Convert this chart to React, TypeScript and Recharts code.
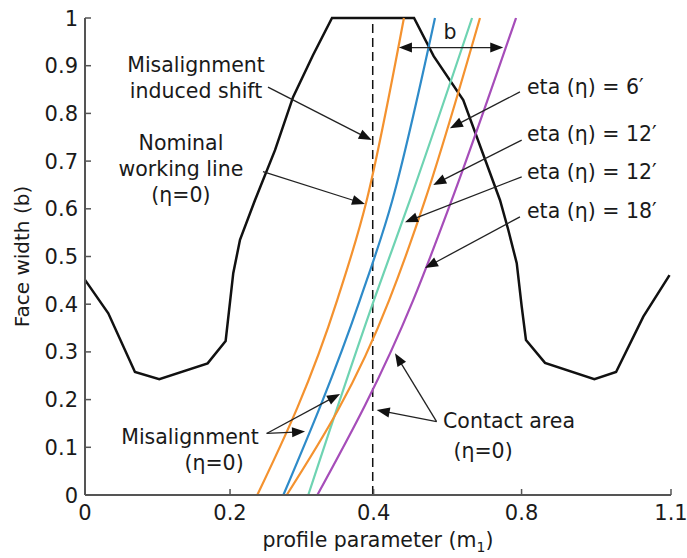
import { LineChart, Line, XAxis, YAxis, ReferenceLine, ReferenceDot } from "recharts";

// x axis is drawn on an index scale: the printed labels are not evenly spaced values
const xTickValues = [0, 0.99, 1.97, 2.98, 4];
const xTickLabels = ["0", "0.2", "0.4", "0.8", "1.1"];
const yTickValues = [0, 0.1, 0.2, 0.3, 0.4, 0.5, 0.6, 0.7, 0.8, 0.9, 1];

// tooth contact boundary (black)
const contactBoundary = [
  { x: 0, y: 0.451 },
  { x: 0.159, y: 0.381 },
  { x: 0.341, y: 0.258 },
  { x: 0.507, y: 0.243 },
  { x: 0.837, y: 0.276 },
  { x: 0.96, y: 0.323 },
  { x: 1.012, y: 0.465 },
  { x: 1.058, y: 0.535 },
  { x: 1.16, y: 0.618 },
  { x: 1.297, y: 0.723 },
  { x: 1.42, y: 0.834 },
  { x: 1.556, y: 0.922 },
  { x: 1.686, y: 1.0 },
  { x: 2.246, y: 1.0 },
  { x: 2.38, y: 0.92 },
  { x: 2.582, y: 0.828 },
  { x: 2.833, y: 0.618 },
  { x: 2.889, y: 0.556 },
  { x: 2.947, y: 0.486 },
  { x: 2.981, y: 0.395 },
  { x: 3.01, y: 0.325 },
  { x: 3.14, y: 0.277 },
  { x: 3.477, y: 0.243 },
  { x: 3.625, y: 0.258 },
  { x: 3.811, y: 0.374 },
  { x: 3.99, y: 0.461 },
];

// working lines
const nominalOrange = [
  { x: 1.176, y: 0 },
  { x: 1.722, y: 0.409 },
  { x: 1.923, y: 0.618 },
  { x: 2.177, y: 1 },
];
const blueLine = [
  { x: 1.354, y: 0 },
  { x: 1.877, y: 0.409 },
  { x: 2.098, y: 0.618 },
  { x: 2.389, y: 1 },
];
const greenLine = [
  { x: 1.524, y: 0 },
  { x: 1.973, y: 0.409 },
  { x: 2.218, y: 0.618 },
  { x: 2.642, y: 1 },
];
const shiftedOrange = [
  { x: 1.377, y: 0 },
  { x: 2.077, y: 0.409 },
  { x: 2.321, y: 0.618 },
  { x: 2.696, y: 1 },
];
const purpleLine = [
  { x: 1.586, y: 0 },
  { x: 2.241, y: 0.409 },
  { x: 2.503, y: 0.618 },
  { x: 2.942, y: 1 },
];

const nominalX = 1.964;

// annotations
const arrows = [
  { from: [1.249, 0.855], to: [1.957, 0.744] },
  { from: [1.215, 0.678], to: [1.911, 0.61] },
  { from: [2.969, 0.845], to: [2.491, 0.769] },
  { from: [2.981, 0.744], to: [2.377, 0.65] },
  { from: [2.981, 0.667], to: [2.184, 0.572] },
  { from: [2.969, 0.583], to: [2.321, 0.476] },
  { from: [1.24, 0.129], to: [1.741, 0.212] },
  { from: [1.24, 0.129], to: [1.502, 0.133] },
  { from: [2.4, 0.154], to: [1.991, 0.178] },
  { from: [2.4, 0.154], to: [2.116, 0.297] },
];
const faceWidthArrow = { from: [2.143, 0.938], to: [2.855, 0.938] };

const labels = [
  { x: 0.758, y: 0.902, lines: ["Misalignment", "induced shift"], anchor: "middle" },
  { x: 0.655, y: 0.738, lines: ["Nominal", "working line", "(η=0)"], anchor: "middle" },
  { x: 0.717, y: 0.122, lines: ["Misalignment"], anchor: "middle" },
  { x: 0.881, y: 0.067, lines: ["(η=0)"], anchor: "middle" },
  { x: 2.444, y: 0.155, lines: ["Contact area"], anchor: "start" },
  { x: 2.717, y: 0.094, lines: ["(η=0)"], anchor: "middle" },
  { x: 3.017, y: 0.856, lines: ["eta (η) = 6′"], anchor: "start" },
  { x: 3.017, y: 0.758, lines: ["eta (η) = 12′"], anchor: "start" },
  { x: 3.017, y: 0.678, lines: ["eta (η) = 12′"], anchor: "start" },
  { x: 3.017, y: 0.597, lines: ["eta (η) = 18′"], anchor: "start" },
  { x: 2.491, y: 0.971, lines: ["b"], anchor: "middle" },
];

const FONT = "'DejaVu Sans', Verdana, sans-serif";
const TEXT = "#1a1a1a";
const AXIS = "#555";

const headPoints = (tx: number, ty: number, ux: number, uy: number) => {
  const len = 13;
  const half = 5;
  const bx = tx - ux * len;
  const by = ty - uy * len;
  return `${tx},${ty} ${bx - uy * half},${by + ux * half} ${bx + uy * half},${by - ux * half}`;
};

const arrowShape = (both: boolean) => (p: any) => {
  const { x1, y1, x2, y2 } = p;
  const dx = x2 - x1;
  const dy = y2 - y1;
  const d = Math.hypot(dx, dy) || 1;
  const ux = dx / d;
  const uy = dy / d;
  const sx = both ? x1 + ux * 10 : x1;
  const sy = both ? y1 + uy * 10 : y1;
  return (
    <g>
      <line x1={sx} y1={sy} x2={x2 - ux * 10} y2={y2 - uy * 10} stroke="#222" strokeWidth={1.3} />
      <polygon points={headPoints(x2, y2, ux, uy)} fill="#111" />
      {both && <polygon points={headPoints(x1, y1, -ux, -uy)} fill="#111" />}
    </g>
  );
};

const XTick = (props: any) => {
  const { x, y, payload } = props;
  const i = xTickValues.indexOf(payload.value);
  return (
    <g>
      <line x1={x} x2={x} y1={y - 10} y2={y - 16} stroke={AXIS} strokeWidth={1.5} />
      <text x={x} y={y} dy="0.72em" textAnchor="middle" fontFamily={FONT} fontSize={21} fill={TEXT}>
        {xTickLabels[i]}
      </text>
    </g>
  );
};

const YTick = (props: any) => {
  const { x, y, payload } = props;
  const v = payload.value;
  const label = v === 0 ? "0" : v === 1 ? "1" : v.toFixed(1);
  return (
    <g>
      <line x1={x + 7} x2={x + 13} y1={y} y2={y} stroke={AXIS} strokeWidth={1.5} />
      <text x={x} y={y} dy="0.36em" textAnchor="end" fontFamily={FONT} fontSize={21} fill={TEXT}>
        {label}
      </text>
    </g>
  );
};

const App = () => {
  return (
    <div style={{ position: "absolute", left: 0, top: 0, background: "#fff" }}>
      <LineChart width={687} height={558} margin={{ top: 18, right: 16, bottom: 0, left: 0 }}>
        <XAxis
          type="number"
          dataKey="x"
          domain={[0, 4]}
          ticks={xTickValues}
          interval={0}
          height={63}
          tickSize={0}
          tickMargin={10}
          tick={<XTick />}
          stroke={AXIS}
          strokeWidth={2}
          label={{
            content: (p: any) => {
              const vb = p.viewBox;
              return (
                <text x={vb.x + vb.width / 2} y={vb.y + 52} textAnchor="middle" fontFamily={FONT} fontSize={20.5} fill={TEXT}>
                  <tspan>profile parameter (m</tspan>
                  <tspan fontSize={14} dy={5}>1</tspan>
                  <tspan dy={-5}>)</tspan>
                </text>
              );
            },
          }}
        />
        <YAxis
          type="number"
          dataKey="y"
          domain={[0, 1]}
          ticks={yTickValues}
          interval={0}
          width={85}
          tickSize={0}
          tickMargin={7}
          tick={<YTick />}
          stroke={AXIS}
          strokeWidth={2}
          label={{
            content: (p: any) => {
              const vb = p.viewBox;
              const cx = 22;
              const cy = vb.y + vb.height / 2;
              return (
                <text x={cx} y={cy} transform={`rotate(-90 ${cx} ${cy})`} textAnchor="middle" dominantBaseline="central" fontFamily={FONT} fontSize={20} fill={TEXT}>
                  Face width (b)
                </text>
              );
            },
          }}
        />
        <Line data={contactBoundary} dataKey="y" type="linear" stroke="#111" strokeWidth={2.5} dot={false} isAnimationActive={false} />
        <ReferenceLine
          segment={[{ x: nominalX, y: 0 }, { x: nominalX, y: 1 }]}
          stroke="#111"
          strokeWidth={1.5}
          strokeDasharray="9 5"
          ifOverflow="visible"
        />
        <Line data={nominalOrange} dataKey="y" type="monotone" stroke="#F4922F" strokeWidth={2.2} dot={false} isAnimationActive={false} />
        <Line data={blueLine} dataKey="y" type="monotone" stroke="#2E8BC9" strokeWidth={2.2} dot={false} isAnimationActive={false} />
        <Line data={greenLine} dataKey="y" type="monotone" stroke="#6ED3B2" strokeWidth={2.2} dot={false} isAnimationActive={false} />
        <Line data={shiftedOrange} dataKey="y" type="monotone" stroke="#F4922F" strokeWidth={2.2} dot={false} isAnimationActive={false} />
        <Line data={purpleLine} dataKey="y" type="monotone" stroke="#A64DB9" strokeWidth={2.2} dot={false} isAnimationActive={false} />
        {arrows.map((a, i) => (
          <ReferenceLine
            key={`arrow-${i}`}
            segment={[{ x: a.from[0], y: a.from[1] }, { x: a.to[0], y: a.to[1] }]}
            ifOverflow="visible"
            shape={arrowShape(false)}
          />
        ))}
        <ReferenceLine
          segment={[
            { x: faceWidthArrow.from[0], y: faceWidthArrow.from[1] },
            { x: faceWidthArrow.to[0], y: faceWidthArrow.to[1] },
          ]}
          ifOverflow="visible"
          shape={arrowShape(true)}
        />
        {labels.map((l, i) => (
          <ReferenceDot
            key={`label-${i}`}
            x={l.x}
            y={l.y}
            ifOverflow="visible"
            shape={(p: any) => (
              <text x={p.cx} y={p.cy} textAnchor={l.anchor} fontFamily={FONT} fontSize={20.5} fill={TEXT}>
                {l.lines.map((s, j) => (
                  <tspan key={j} x={p.cx} dy={j === 0 ? "0.36em" : 26}>
                    {s}
                  </tspan>
                ))}
              </text>
            )}
          />
        ))}
      </LineChart>
    </div>
  );
};

export default App;
